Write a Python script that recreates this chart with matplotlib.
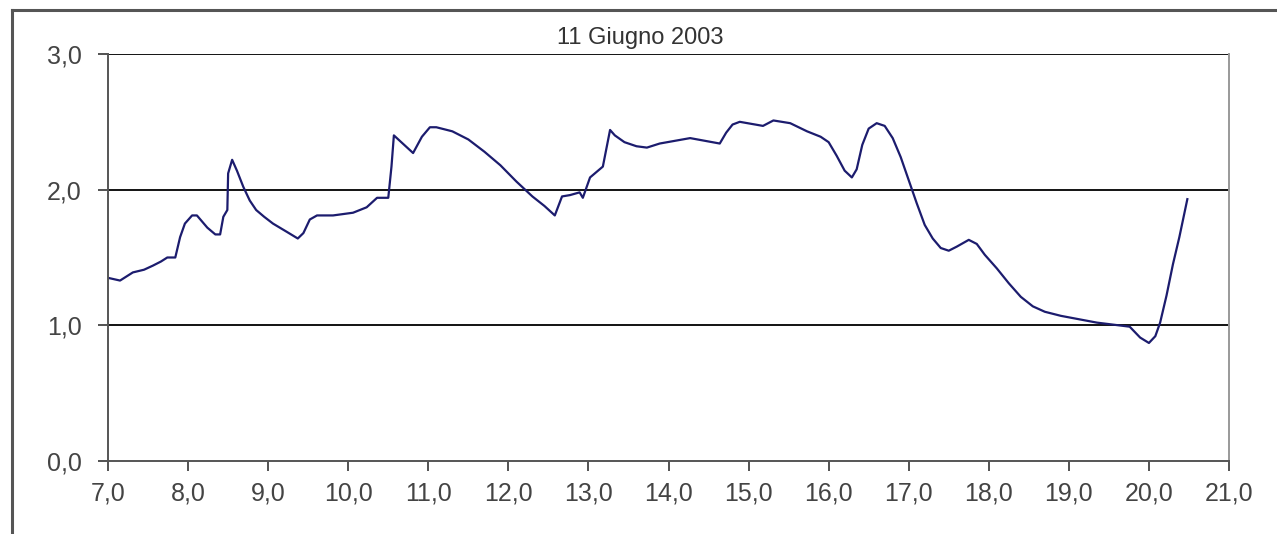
import matplotlib.pyplot as plt
from matplotlib.lines import Line2D

ora = [7.00, 7.15, 7.31, 7.45, 7.56, 7.66, 7.74, 7.84, 7.90, 7.96, 8.05, 8.11,
       8.24, 8.34, 8.40, 8.44, 8.49, 8.50, 8.55, 8.61, 8.69, 8.77, 8.85, 8.95,
       9.06, 9.23, 9.37, 9.44, 9.52, 9.61, 9.81, 10.06, 10.23, 10.36, 10.50,
       10.54, 10.57, 10.81, 10.92, 11.02, 11.10, 11.30, 11.50, 11.70, 11.90,
       12.10, 12.30, 12.45, 12.58, 12.67, 12.77, 12.89, 12.93, 13.02, 13.18,
       13.27, 13.33, 13.45, 13.60, 13.73, 13.89, 14.27, 14.64, 14.72, 14.80,
       14.89, 15.18, 15.31, 15.52, 15.73, 15.90, 16.00, 16.10, 16.20, 16.29,
       16.35, 16.42, 16.50, 16.60, 16.70, 16.80, 16.90, 17.00, 17.10, 17.20,
       17.30, 17.40, 17.50, 17.60, 17.75, 17.85, 17.95, 18.10, 18.25, 18.40,
       18.55, 18.70, 18.90, 19.35, 19.76, 19.89, 20.00, 20.08, 20.14, 20.22,
       20.30, 20.38, 20.48]
valore = [1.35, 1.33, 1.39, 1.41, 1.44, 1.47, 1.50, 1.50, 1.65, 1.75, 1.81, 1.81,
          1.72, 1.67, 1.67, 1.80, 1.85, 2.12, 2.22, 2.14, 2.02, 1.92, 1.85, 1.80,
          1.75, 1.69, 1.64, 1.68, 1.78, 1.81, 1.81, 1.83, 1.87, 1.94, 1.94,
          2.17, 2.40, 2.27, 2.39, 2.46, 2.46, 2.43, 2.37, 2.28, 2.18,
          2.06, 1.95, 1.88, 1.81, 1.95, 1.96, 1.98, 1.94, 2.09, 2.17,
          2.44, 2.40, 2.35, 2.32, 2.31, 2.34, 2.38, 2.34, 2.42, 2.48,
          2.50, 2.47, 2.51, 2.49, 2.43, 2.39, 2.35, 2.25, 2.14, 2.09,
          2.15, 2.33, 2.45, 2.49, 2.47, 2.38, 2.24, 2.07, 1.90, 1.74,
          1.64, 1.57, 1.55, 1.58, 1.63, 1.60, 1.52, 1.42, 1.31, 1.21,
          1.14, 1.10, 1.07, 1.02, 0.99, 0.91, 0.87, 0.92, 1.02, 1.22,
          1.45, 1.65, 1.93]

x_ticks = list(range(7, 22))
y_ticks = [0, 1, 2, 3]
titolo = '11 Giugno 2003'

plt.rcParams['font.family'] = ['Liberation Sans', 'DejaVu Sans']

fig = plt.figure(figsize=(12.77, 5.34), dpi=100)
ax = fig.add_axes([0.0846, 0.1367, 0.8778, 0.7622])

ax.plot(ora, valore, '-', color='#1c1c6e', lw=1.6)

# griglia orizzontale nera
for yv in y_ticks[1:]:
    ax.axhline(yv, color='black', lw=1.3, zorder=0)

ax.set_xlim(7, 21)
ax.set_ylim(0, 3)
ax.set_xticks(x_ticks)
ax.set_xticklabels(['%d,0' % v for v in x_ticks])
ax.set_yticks(y_ticks)
ax.set_yticklabels(['%d,0' % v for v in y_ticks])
ax.tick_params(axis='both', labelsize=18, colors='#444444', direction='out',
               length=7, width=1.3)
ax.tick_params(axis='y', pad=12)
ax.tick_params(axis='x', pad=8)

ax.spines['top'].set_visible(False)
ax.spines['left'].set_color('#555555')
ax.spines['bottom'].set_color('#555555')
ax.spines['right'].set_color('#999999')
for s in ['left', 'bottom', 'right']:
    ax.spines[s].set_linewidth(1.4)

fig.text(0.501, 0.928, titolo, ha='center', va='center', fontsize=17, color='#333333')

# cornice del grafico (bordo sinistro e superiore)
fig.add_artist(Line2D([0.0094, 0.0094], [0.0, 0.981], color='#555555', lw=2.2))
fig.add_artist(Line2D([0.0094, 1.0], [0.981, 0.981], color='#555555', lw=2.2))

fig.savefig('out.png', dpi=100)
